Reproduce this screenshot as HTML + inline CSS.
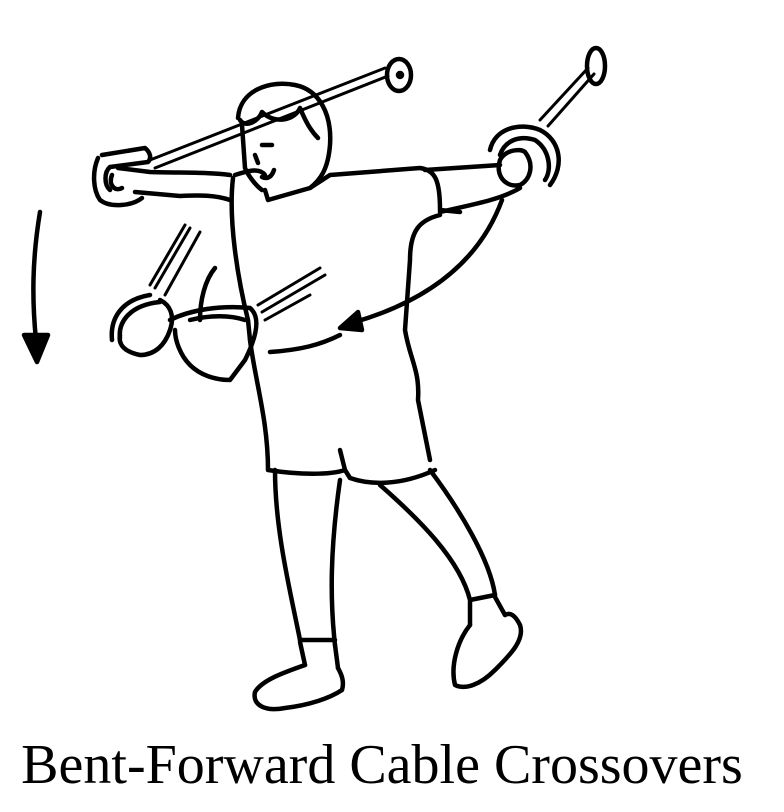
<!DOCTYPE html>
<html><head><meta charset="utf-8"><style>
html,body{margin:0;padding:0;background:#fff;width:784px;height:812px;overflow:hidden}
svg{position:absolute;left:0;top:0}
.t{position:absolute;left:0;width:764px;top:733px;text-align:center;font-family:"Liberation Serif",serif;font-size:56px;color:#000;white-space:nowrap}
</style></head><body>
<svg width="784" height="812" viewBox="0 0 784 812" fill="none" stroke="#000" stroke-width="4.5" stroke-linecap="round" stroke-linejoin="round">
<path d="M150 160 L385 68 M155 168 L388 76" stroke-width="3"/>
<ellipse cx="399" cy="75" rx="12" ry="16"/>
<circle cx="400" cy="75" r="2" fill="#000"/>
<path d="M540 120 L588 68 M548 126 L594 74" stroke-width="3"/>
<ellipse cx="596" cy="66" rx="9" ry="18"/>
<path d="M238 118 C240 90 270 80 295 85 C320 90 332 115 330 145 C328 170 320 180 310 188 L268 200 L265 190"/>
<path d="M240 120 C245 128 258 122 262 112 C275 125 295 120 300 108 C305 120 310 130 318 138"/>
<path d="M242 125 L245 168 C248 175 255 185 262 190"/>
<path d="M262 145 L272 145 M255 155 L258 163 M262 177 C268 180 272 176 274 170"/>
<path d="M230 175 C210 172 180 173 150 172 L118 168"/>
<path d="M230 200 C215 195 200 195 180 196 L135 192"/>
<path d="M98 158 C92 172 93 190 100 200 C110 208 132 206 142 198 M102 155 L145 148 C150 152 152 158 148 162 L110 167 C104 172 104 185 110 190"/>
<path d="M112 175 C108 185 115 192 122 188"/>
<path d="M235 175 C250 170 260 168 265 175 M310 188 L330 175 L420 168 C435 170 440 180 440 210 L460 212"/>
<path d="M233 178 C228 220 238 280 248 320 L250 340"/>
<path d="M440 215 C420 220 410 230 410 260 L405 330 C410 360 420 370 418 400 L430 460"/>
<path d="M425 170 L500 165 M440 212 C470 205 500 200 520 188"/>
<path d="M490 150 C495 128 520 122 540 130 C560 140 565 165 550 185 M500 155 C505 140 520 135 535 140 C550 150 552 170 545 180"/>
<path d="M500 160 C505 150 520 148 525 152 C535 165 530 180 520 185 C505 188 495 175 500 160"/>
<path d="M502 200 C480 260 430 300 355 322"/>
<path d="M340 328 L358 312 L362 330 Z" fill="#000"/>
<path d="M340 335 C320 345 300 350 270 352"/>
<path d="M185 225 L150 285 M190 228 L155 288 M200 232 L165 295" stroke-width="3"/>
<path d="M215 268 C205 280 200 300 200 320"/>
<path d="M150 295 C120 300 110 320 112 340 M160 302 C130 305 118 322 120 338"/>
<path d="M160 300 C170 305 175 315 170 330 C165 345 155 355 140 355 C125 352 118 345 120 335"/>
<path d="M170 320 C190 310 220 305 250 308 C262 318 255 340 245 360 L230 380 C215 380 200 375 190 365 C180 355 175 340 175 330"/>
<path d="M190 320 C210 315 230 315 245 320"/>
<path d="M258 305 L320 268 M262 312 L325 275 M265 320 L310 295" stroke-width="3"/>
<path d="M250 340 C255 380 268 420 268 470 C300 475 330 475 345 470 L350 478 C370 485 400 486 435 470"/>
<path d="M340 450 L345 470"/>
<path d="M275 470 C275 530 290 590 300 640 M340 480 C330 550 330 600 335 645"/>
<path d="M380 485 C420 520 460 560 470 600 M430 470 C460 510 490 560 495 595"/>
<path d="M300 640 L335 640 M300 642 L305 665 M335 645 L338 668"/>
<path d="M305 665 C285 672 262 680 255 692 C252 705 265 712 285 708 C310 705 330 698 342 690 C345 680 340 672 338 668"/>
<path d="M470 600 L495 595 M470 602 L470 625 M495 597 L505 615"/>
<path d="M470 625 C458 640 450 665 455 685 C465 690 480 685 495 670 C510 655 525 640 520 625 C515 615 510 612 505 615"/>
<path d="M40 212 C32 260 32 300 36 340"/>
<path d="M24 335 L48 335 L37 362 Z" fill="#000"/>
</svg>
<div class="t">Bent-Forward Cable Crossovers</div>
</body></html>
